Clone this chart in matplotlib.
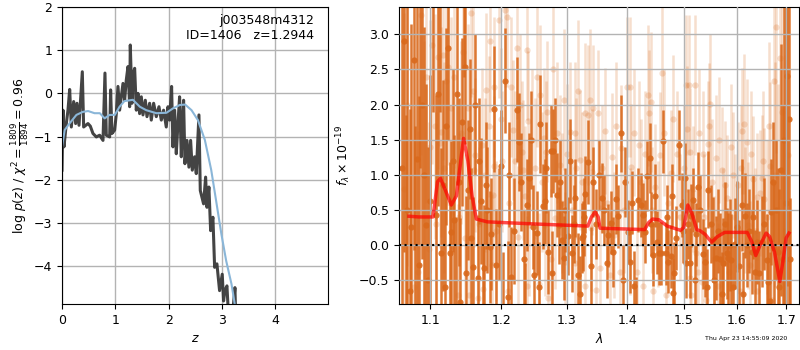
import numpy as np
import matplotlib
matplotlib.use("Agg")
import matplotlib.pyplot as plt
from matplotlib.ticker import NullLocator, NullFormatter

# left panel: log p(z) and smoothed curve
z_pz = [0.000, 0.019, 0.037, 0.081, 0.112, 0.144, 0.175, 0.219, 0.256, 0.281,
        0.319, 0.381, 0.406, 0.487, 0.531, 0.581, 0.644, 0.706, 0.769, 0.806,
        0.831, 0.894, 0.912, 0.937, 0.988, 1.019, 1.050, 1.081, 1.144, 1.175,
        1.206, 1.238, 1.269, 1.281, 1.313, 1.331, 1.363, 1.394, 1.425, 1.456,
        1.488, 1.519, 1.563, 1.594, 1.644, 1.675, 1.719, 1.769, 1.819, 1.863,
        1.906, 1.956, 1.988, 2.019, 2.056, 2.081, 2.113, 2.144, 2.175, 2.206,
        2.238, 2.256, 2.281, 2.306, 2.344, 2.381, 2.413, 2.444, 2.488, 2.519,
        2.569, 2.594, 2.656, 2.694, 2.719, 2.756, 2.788, 2.831, 2.863, 2.906,
        2.956, 3.006, 3.031, 3.056, 3.094, 3.119, 3.206, 3.244, 3.256]
logpz = [-1.78, -0.39, -1.24, -0.70, -0.39, 0.09, -0.78, -0.19, -0.70, -0.23,
         -0.74, 0.50, -0.78, -0.70, -0.76, -0.93, -1.01, -0.97, -1.09, 0.47,
         -0.97, -1.01, 0.08, -0.93, -0.85, -0.47, 0.16, -0.39, 0.23, -0.16,
         0.31, 0.62, -0.31, 1.12, -0.23, 0.43, 0.58, -0.39, 0.00, -0.47,
         -0.08, -0.50, -0.16, -0.54, -0.23, -0.62, -0.23, -0.54, -0.31, -0.62,
         -0.39, -0.78, -0.31, -0.62, 0.16, -1.24, -0.39, -1.40, -0.70, -0.08,
         -1.47, -0.78, -0.16, -1.63, -1.09, -1.71, -1.09, -1.78, -1.47, -1.86,
         -0.50, -2.25, -2.56, -1.94, -2.64, -2.17, -3.18, -2.87, -4.03, -3.95,
         -4.57, -4.19, -4.81, -4.57, -4.46, -5.04, -5.04, -4.50, -5.04]

z_smooth = [0.00, 0.05, 0.14, 0.27, 0.39, 0.49, 0.61, 0.71, 0.80, 0.89, 0.99,
            1.08, 1.17, 1.33, 1.46, 1.58, 1.77, 1.96, 2.08, 2.21, 2.31, 2.43,
            2.55, 2.68, 2.80, 2.89, 2.99, 3.08, 3.18, 3.24, 3.30]
logpz_smooth = [-1.24, -0.85, -0.70, -0.50, -0.43, -0.41, -0.46, -0.46, -0.58,
                -0.50, -0.50, -0.31, -0.18, -0.15, -0.31, -0.39, -0.46, -0.45,
                -0.35, -0.27, -0.26, -0.39, -0.62, -1.08, -1.78, -2.48, -3.26,
                -3.88, -4.42, -4.88, -5.30]

# right panel: spectrum (dark), second spectrum (light), model
spec_wave = [1.063, 1.068, 1.073, 1.075, 1.078, 1.083, 1.085, 1.089, 1.095, 1.100,
             1.108, 1.111, 1.115, 1.117, 1.122, 1.127, 1.129, 1.133, 1.137, 1.141,
             1.144, 1.148, 1.152, 1.155, 1.159, 1.166, 1.170, 1.175, 1.178, 1.183,
             1.185, 1.189, 1.193, 1.200, 1.205, 1.210, 1.215, 1.223, 1.226, 1.234,
             1.239, 1.242, 1.248, 1.249, 1.254, 1.259, 1.263, 1.266, 1.271, 1.275,
             1.279, 1.284, 1.288, 1.292, 1.295, 1.302, 1.308, 1.313, 1.318, 1.324,
             1.326, 1.330, 1.334, 1.343, 1.357, 1.365, 1.368, 1.372, 1.376, 1.380,
             1.384, 1.389, 1.393, 1.401, 1.404, 1.412, 1.419, 1.423, 1.427, 1.430,
             1.434, 1.439, 1.445, 1.451, 1.455, 1.459, 1.463, 1.467, 1.472, 1.476,
             1.480, 1.486, 1.491, 1.496, 1.502, 1.505, 1.511, 1.513, 1.517, 1.523,
             1.526, 1.535, 1.539, 1.546, 1.554, 1.560, 1.568, 1.574, 1.581, 1.584,
             1.590, 1.597, 1.600, 1.610, 1.616, 1.621, 1.630, 1.637, 1.640, 1.650,
             1.660, 1.662, 1.669, 1.673, 1.676, 1.683, 1.690, 1.696, 1.702, 1.709,
             # bars whose dots are faint or off the axes
             1.065, 1.070, 1.080, 1.087, 1.092, 1.097, 1.104, 1.113, 1.120, 1.125,
             1.131, 1.135, 1.139, 1.146, 1.150, 1.157, 1.162, 1.168, 1.173, 1.180,
             1.196, 1.202, 1.212, 1.219, 1.230, 1.236, 1.245, 1.257, 1.268, 1.277,
             1.282, 1.290, 1.298, 1.305, 1.311, 1.321, 1.328, 1.340, 1.348, 1.352,
             1.361, 1.396, 1.408, 1.415, 1.442, 1.448, 1.469, 1.478, 1.483, 1.499,
             1.508, 1.520, 1.530, 1.543, 1.550, 1.557, 1.564, 1.571, 1.578, 1.587,
             1.594, 1.604, 1.613, 1.625, 1.633, 1.645, 1.655, 1.666, 1.680, 1.686,
             1.693, 1.699, 1.706]
spec_flux = [1.10, -0.95, -0.66, 0.25, 2.63, 1.23, -0.28, 2.00, 0.29, 0.62,
             0.43, 2.15, -0.12, 0.85, 1.69, -0.12, 0.18, 0.36, 2.15, -0.81,
             1.75, 2.54, 0.78, 1.65, -0.32, -0.47, 0.63, -0.33, 0.85, -0.03,
             0.16, 1.94, -0.28, 1.13, 2.34, -0.74, -0.45, 1.93, 1.47, -0.20,
             0.57, 0.95, 0.26, -0.43, 0.17, 1.72, 0.55, 0.62, -0.10, 1.34,
             1.34, 0.71, 0.28, 0.07, -0.19, 0.13, -0.12, 0.67, -0.43, 0.10,
             0.13, 0.72, 1.18, 0.90, 0.67, -0.25, 0.14, 0.32, -0.10, 0.66,
             0.41, 1.59, -0.50, 0.19, -0.24, -0.58, 0.64, 0.57, 0.43, 0.19,
             0.98, 1.24, -0.14, 0.04, -0.12, -0.12, 1.48, -0.12, -0.24, -0.16,
             -0.69, 0.10, 1.42, 0.57, 0.95, -0.26, -0.26, 0.42, 0.64, 0.15,
             0.83, -0.13, -0.24, 0.79, 0.08, -0.18, -0.20, -0.26, -0.12, -0.19,
             -0.21, 0.02, 0.26, 0.57, 0.42, 0.00, -0.10, -0.38, 0.04, 0.05,
             -0.21, -0.52, 0.47, 0.90, -0.04, -0.10, 1.07, 1.50, 2.41, -0.20,
             2.90, 0.50, -0.90, 3.50, 1.00, -0.50, 3.60, 3.50, -0.60, 2.80,
             1.20, -0.90, 0.90, 3.60, -0.40, 0.10, 2.00, 1.20, -0.90, 0.50,
             0.30, -0.90, 1.00, 0.20, 0.90, -0.95, 1.50, -0.60, 1.10, -0.40,
             1.50, 0.90, 0.50, 1.20, 0.30, -0.70, 0.40, -0.30, 0.30, 1.00,
             0.50, 0.90, 0.60, -0.95, 0.30, 0.70, 0.40, 0.70, -0.40, 0.20,
             0.30, -0.50, 0.50, -0.60, 0.30, -0.50, 0.20, -0.70, 0.30, 0.00,
             -0.60, -0.30, -0.70, 0.20, 0.40, -0.40, 0.30, -0.80, 0.50, -0.60,
             -0.20, 0.60, 1.80]
spec_err = [3.0, 2.8, 2.6, 2.9, 2.7, 2.5, 2.4, 2.2, 2.0, 1.8,
            1.7, 1.6, 1.5, 1.5, 1.4, 1.3, 1.3, 1.2, 1.3, 1.2,
            1.2, 1.1, 1.0, 1.0, 1.0, 0.9, 0.9, 0.9, 0.9, 0.8,
            0.8, 0.9, 0.8, 0.8, 0.75, 0.8, 0.7, 0.75, 0.7, 0.7,
            0.65, 0.65, 0.6, 0.65, 0.6, 0.7, 0.6, 0.6, 0.6, 0.65,
            0.6, 0.6, 0.55, 0.55, 0.6, 0.55, 0.55, 0.55, 0.6, 0.5,
            0.5, 0.55, 0.6, 0.5, 0.5, 0.5, 0.45, 0.45, 0.5, 0.5,
            0.45, 0.55, 0.5, 0.45, 0.45, 0.5, 0.45, 0.45, 0.45, 0.45,
            0.5, 0.5, 0.45, 0.45, 0.45, 0.45, 0.45, 0.45, 0.45, 0.45,
            0.5, 0.45, 0.5, 0.45, 0.5, 0.5, 0.5, 0.45, 0.45, 0.45,
            0.5, 0.5, 0.5, 0.55, 0.6, 0.6, 0.65, 0.65, 0.65, 0.65,
            0.65, 0.65, 0.65, 0.65, 0.6, 0.6, 0.6, 0.6, 0.6, 0.65,
            0.65, 0.65, 0.75, 0.85, 0.95, 1.2, 1.8, 2.5, 3.0, 0.87,
            3.0, 3.0, 2.6, 2.4, 2.1, 1.9, 1.7, 1.6, 1.4, 1.3,
            1.3, 1.3, 1.2, 1.2, 1.1, 1.0, 1.0, 0.9, 0.9, 0.9,
            0.8, 0.8, 0.75, 0.75, 0.7, 0.7, 0.7, 0.65, 0.65, 0.6,
            0.6, 0.6, 0.6, 0.6, 0.55, 0.55, 0.55, 0.55, 0.5, 0.5,
            0.5, 0.5, 0.45, 0.5, 0.45, 0.45, 0.45, 0.45, 0.45, 0.45,
            0.5, 0.5, 0.5, 0.55, 0.55, 0.6, 0.6, 0.6, 0.6, 0.65,
            0.65, 0.65, 0.6, 0.6, 0.6, 0.6, 0.65, 0.7, 1.0, 1.4,
            2.2, 2.8, 3.0]

other_wave = [1.065, 1.084, 1.088, 1.098, 1.100, 1.102, 1.106, 1.111, 1.113, 1.115,
              1.117, 1.122, 1.124, 1.129, 1.138, 1.140, 1.145, 1.152, 1.153, 1.157,
              1.161, 1.162, 1.166, 1.172, 1.173, 1.178, 1.182, 1.187, 1.188, 1.189,
              1.190, 1.197, 1.201, 1.205, 1.208, 1.210, 1.215, 1.217, 1.223, 1.225,
              1.231, 1.233, 1.238, 1.239, 1.240, 1.241, 1.251, 1.256, 1.258, 1.264,
              1.266, 1.267, 1.271, 1.279, 1.282, 1.289, 1.296, 1.297, 1.305, 1.313,
              1.314, 1.315, 1.322, 1.329, 1.330, 1.334, 1.337, 1.340, 1.341, 1.343,
              1.347, 1.351, 1.354, 1.362, 1.371, 1.374, 1.377, 1.387, 1.390, 1.399,
              1.404, 1.405, 1.407, 1.416, 1.420, 1.427, 1.436, 1.437, 1.442, 1.443,
              1.445, 1.449, 1.457, 1.461, 1.467, 1.476, 1.487, 1.505, 1.506, 1.509,
              1.511, 1.512, 1.514, 1.521, 1.522, 1.527, 1.533, 1.535, 1.541, 1.546,
              1.547, 1.549, 1.560, 1.564, 1.571, 1.578, 1.581, 1.585, 1.593, 1.603,
              1.606, 1.611, 1.614, 1.621, 1.623, 1.626, 1.632, 1.640, 1.641, 1.646,
              1.650, 1.655, 1.664, 1.667, 1.670, 1.674, 1.679, 1.687, 1.704,
              1.070, 1.078, 1.092, 1.095, 1.108, 1.119, 1.127, 1.133, 1.142, 1.148,
              1.159, 1.168, 1.176, 1.184, 1.193, 1.199, 1.212, 1.220, 1.228, 1.236,
              1.246, 1.253, 1.261, 1.269, 1.275, 1.285, 1.292, 1.300, 1.309, 1.318,
              1.325, 1.358, 1.366, 1.381, 1.394, 1.411, 1.423, 1.431, 1.453, 1.465,
              1.471, 1.481, 1.494, 1.500, 1.517, 1.529, 1.538, 1.553, 1.557, 1.567,
              1.574, 1.589, 1.597, 1.608, 1.617, 1.629, 1.636, 1.652, 1.660, 1.677,
              1.684, 1.692, 1.698]
other_flux = [0.80, -0.38, 3.28, -0.05, 1.40, 2.85, 1.69, 2.68, 1.46, 1.61,
              2.71, 2.33, 2.54, 1.95, -0.71, 0.40, 2.75, 1.95, -0.71, 3.31,
              1.07, 1.28, -0.76, 1.42, -0.62, 2.21, 1.69, -0.28, 0.71, 2.25,
              1.12, 3.20, 1.19, 3.35, 3.25, -0.66, 2.25, 1.64, 2.80, 0.12,
              1.33, 1.07, -0.58, 2.78, 1.76, 0.28, 1.09, -0.55, 2.14, 1.52,
              0.28, 1.33, -0.76, 2.51, 0.38, 1.14, 2.07, -0.24, 1.61, 1.60,
              -0.26, 1.09, 1.21, 1.88, -0.59, 1.85, 2.07, 0.24, 1.04, 1.95,
              -0.64, 1.88, -0.33, 1.62, -0.43, 1.26, 0.14, -0.38, 1.38, 2.25,
              0.19, 2.25, 1.11, -0.38, 1.43, -0.59, 2.13, 1.88, 2.04, 0.50,
              -0.66, 0.83, 1.28, 2.45, -0.71, 1.02, 1.29, 2.28, 1.65, 2.28,
              1.33, -0.47, -0.71, 2.28, -0.12, -0.38, -0.52, 1.30, -0.78, 1.44,
              1.69, 2.01, 1.24, -0.59, 1.07, 0.86, 0.67, -0.38, 1.00, 0.85,
              -0.66, 1.62, 1.72, 1.47, 0.28, -0.28, 0.94, 0.69, -0.66, 0.74,
              0.95, 0.66, 1.69, 1.12, -0.78, 2.34, 3.11, 2.66, 1.28,
              2.00, -0.60, 1.00, 2.40, 0.30, 1.10, 0.60, 2.40, 1.60, 0.10,
              2.20, 0.30, 1.00, 2.90, 0.20, 1.80, 0.60, 1.20, 2.00, 0.70,
              1.50, 2.40, 0.90, 1.90, -0.20, 1.60, 0.60, 1.30, 0.50, 2.20,
              0.90, 1.10, 0.60, 1.70, 0.50, 1.60, 0.90, 1.30, 0.30, 1.60,
              0.60, 1.80, 0.40, 1.10, 0.80, 1.60, 0.40, 0.90, -0.20, 1.50,
              0.20, 1.40, 0.40, 1.10, 0.50, 1.30, 0.20, 1.20, 0.40, 1.00,
              0.50, 1.90, 0.20]
other_err = [2.5, 2.0, 2.0, 1.8, 1.8, 1.7, 1.6, 1.6, 1.5, 1.5,
             1.5, 1.4, 1.4, 1.3, 1.3, 1.2, 1.3, 1.2, 1.2, 1.2,
             1.1, 1.1, 1.1, 1.1, 1.1, 1.1, 1.0, 1.0, 1.0, 1.0,
             1.0, 1.1, 1.0, 1.1, 1.0, 1.0, 1.0, 1.0, 1.0, 1.0,
             1.0, 1.0, 1.0, 1.0, 1.0, 1.0, 1.0, 1.0, 1.0, 1.0,
             1.0, 1.0, 1.0, 1.0, 1.0, 1.0, 1.0, 1.0, 1.0, 1.0,
             1.0, 1.0, 1.0, 1.0, 1.0, 1.0, 1.0, 0.9, 0.9, 0.9,
             0.9, 0.9, 0.9, 0.9, 0.9, 0.9, 0.9, 0.9, 0.9, 1.0,
             0.9, 1.0, 0.9, 0.9, 0.9, 0.9, 1.0, 0.9, 1.0, 0.9,
             0.9, 0.9, 0.9, 1.0, 0.9, 0.9, 0.9, 1.0, 0.9, 1.0,
             0.9, 0.9, 0.9, 1.0, 0.9, 0.9, 0.9, 0.9, 0.9, 0.9,
             0.9, 1.0, 0.9, 0.9, 0.9, 0.9, 0.9, 0.9, 0.9, 0.9,
             0.9, 0.9, 1.0, 0.9, 0.9, 0.9, 0.9, 0.9, 0.9, 0.9,
             0.9, 1.0, 1.2, 1.2, 1.3, 1.5, 1.8, 2.0, 2.5,
             2.3, 2.1, 1.9, 1.8, 1.6, 1.5, 1.4, 1.3, 1.3, 1.2,
             1.2, 1.1, 1.1, 1.0, 1.0, 1.0, 1.0, 1.0, 1.0, 1.0,
             1.0, 1.0, 1.0, 1.0, 1.0, 1.0, 1.0, 1.0, 1.0, 1.0,
             1.0, 0.9, 0.9, 0.9, 0.9, 0.9, 0.9, 0.9, 0.9, 0.9,
             0.9, 0.9, 0.9, 0.9, 0.9, 0.9, 0.9, 0.9, 0.9, 0.9,
             0.9, 0.9, 0.9, 0.9, 0.9, 0.9, 0.9, 1.0, 1.1, 1.6,
             1.8, 2.2, 2.5]

model_wave = [1.072, 1.085, 1.104, 1.110, 1.114, 1.120, 1.129, 1.136, 1.146, 1.152,
              1.158, 1.164, 1.180, 1.250, 1.334, 1.340, 1.346, 1.351, 1.354, 1.390,
              1.430, 1.437, 1.444, 1.455, 1.470, 1.494, 1.500, 1.5075, 1.515, 1.524,
              1.531, 1.540, 1.552, 1.563, 1.577, 1.621, 1.630, 1.638, 1.647, 1.659,
              1.666, 1.676, 1.687, 1.694, 1.700, 1.706]
model_flux = [0.41, 0.40, 0.40, 0.90, 0.95, 0.80, 0.57, 0.70, 1.52, 1.20,
              0.70, 0.37, 0.33, 0.30, 0.27, 0.40, 0.47, 0.40, 0.24, 0.23,
              0.22, 0.32, 0.37, 0.36, 0.27, 0.21, 0.25, 0.57, 0.45, 0.22,
              0.20, 0.15, 0.04, 0.12, 0.18, 0.18, 0.05, -0.15, 0.00, 0.17,
              0.12, -0.10, -0.52, -0.20, 0.10, 0.17]

orange = "#d9691c"

fig = plt.figure(figsize=(8, 3.5), dpi=100)
plt.rcParams["font.size"] = 9

# ---- p(z)
ax1 = fig.add_axes([0.0775, 0.1314, 0.3325, 0.8486])
ax1.plot(z_pz, logpz, color="#303030", alpha=0.9, lw=2.2)
ax1.plot(z_smooth, logpz_smooth, color="#8ab6d8", lw=1.5)
ax1.set_xlim(0, 4.99)
ax1.set_ylim(-4.88, 2)
ax1.set_xticks([0, 1, 2, 3, 4])
ax1.set_yticks([-4, -3, -2, -1, 0, 1, 2])
ax1.grid(color="0.7", lw=1)
ax1.set_xlabel(r"$z$", fontsize=9)
ax1.set_ylabel(r"log $p(z)$ / $\chi^2=\frac{1809}{1894}=0.96$", fontsize=9, labelpad=2)
ax1.text(0.947, 0.975, "j003548m4312\nID=1406   z=1.2944", transform=ax1.transAxes,
         ha="right", va="top", fontsize=9, multialignment="right")
ax1.tick_params(labelsize=9)

# ---- spectrum
ax2 = fig.add_axes([0.49875, 0.1314, 0.5, 0.8486])
ax2.errorbar(other_wave, other_flux, yerr=other_err, fmt="o", color=orange,
             alpha=0.22, ms=4.5, elinewidth=1.8, mec="none", zorder=1)
ax2.errorbar(spec_wave, spec_flux, yerr=spec_err, fmt="o", color=orange,
             alpha=0.9, ms=4.5, elinewidth=1.8, mec="none", zorder=2)
ax2.plot(model_wave, model_flux, color="r", lw=2.5, alpha=0.7, zorder=4)
ax2.axhline(0, color="k", ls=":", lw=1.5, zorder=5)
ax2.set_xscale("log")
ax2.set_xlim(1.059, 1.727)
ax2.set_ylim(-0.84, 3.39)
xt = [1.1, 1.2, 1.3, 1.4, 1.5, 1.6, 1.7]
ax2.set_xticks(xt)
ax2.set_xticklabels(["1.1", "1.2", "1.3", "1.4", "1.5", "1.6", "1.7"])
ax2.xaxis.set_minor_locator(NullLocator())
ax2.xaxis.set_minor_formatter(NullFormatter())
ax2.set_yticks([-0.5, 0, 0.5, 1.0, 1.5, 2.0, 2.5, 3.0])
ax2.set_axisbelow(False)
ax2.grid(color="0.7", lw=1, zorder=3)
ax2.set_xlabel(r"$\lambda$", fontsize=9)
ax2.set_ylabel(r"$f_\lambda \times 10^{-19}$", fontsize=9)
ax2.tick_params(labelsize=9)

fig.text(0.984, 0.027, "Thu Apr 23 14:55:09 2020", ha="right", va="bottom", fontsize=4.5)

fig.savefig("out.png", dpi=100)
